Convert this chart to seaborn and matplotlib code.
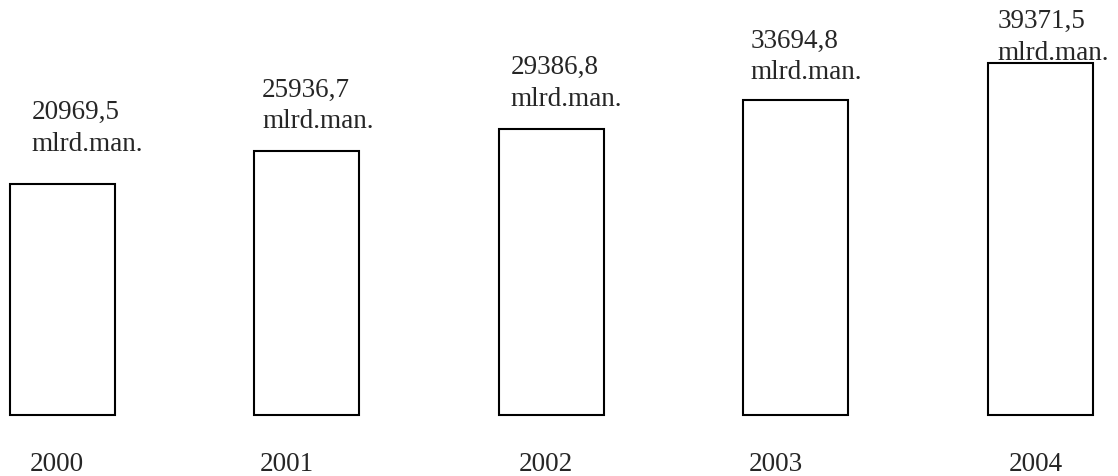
import matplotlib
matplotlib.use('Agg')
import matplotlib.pyplot as plt
from matplotlib.transforms import ScaledTranslation
import numpy as np
import pandas as pd
import seaborn as sns

# chart data
years = ['2000', '2001', '2002', '2003', '2004']
values = [20969.5, 25936.7, 29386.8, 33694.8, 39371.5]
value_labels = ['20969,5', '25936,7', '29386,8', '33694,8', '39371,5']
unit = 'mlrd.man.'

# the hand-drawn bars do not start at zero
base = -14160

# label placement (pixels)
label_dx = [22, 8, 12, 7, 10]
label_dy = [28, 18, 18, 16, -2]
year_dx = [-5, -20, -5, -20, -4]

sns.set_style('white')
plt.rcParams['font.family'] = ['Liberation Serif', 'DejaVu Serif']

fig = plt.figure(figsize=(11.18, 4.77), dpi=100)
ax = fig.add_axes([0, 61 / 477, 1, 416 / 477])

df = pd.DataFrame({'year': years, 'height': np.array(values) - base})
bar_w = 0.43
sns.barplot(data=df, x='year', y='height', bottom=base, width=bar_w,
            fill=False, color='black', linewidth=1.5, errorbar=None, ax=ax)
for p in ax.patches:
    p.set_clip_on(False)

ax.set_xlim(-62.2 / 244.5, (1118 - 62.2) / 244.5)
ax.set_ylim(base, base + 416 / 0.0065754)

ax.set_yticks([])
ax.set_xlabel('')
ax.set_ylabel('')
ax.tick_params(axis='x', length=0, pad=26, labelsize=19.5)
sns.despine(left=True, bottom=True)

for lbl, dx in zip(ax.get_xticklabels(), year_dx):
    lbl.set_transform(lbl.get_transform() + ScaledTranslation(dx / 100, 0, fig.dpi_scale_trans))

for i, (v, txt) in enumerate(zip(values, value_labels)):
    ax.annotate(f'{txt}\n{unit}', xy=(i - bar_w / 2, v),
                xytext=(label_dx[i], label_dy[i]), textcoords='offset pixels',
                ha='left', va='bottom', fontsize=19.5, linespacing=1.35,
                annotation_clip=False)

fig.savefig('out.png', dpi=100)
